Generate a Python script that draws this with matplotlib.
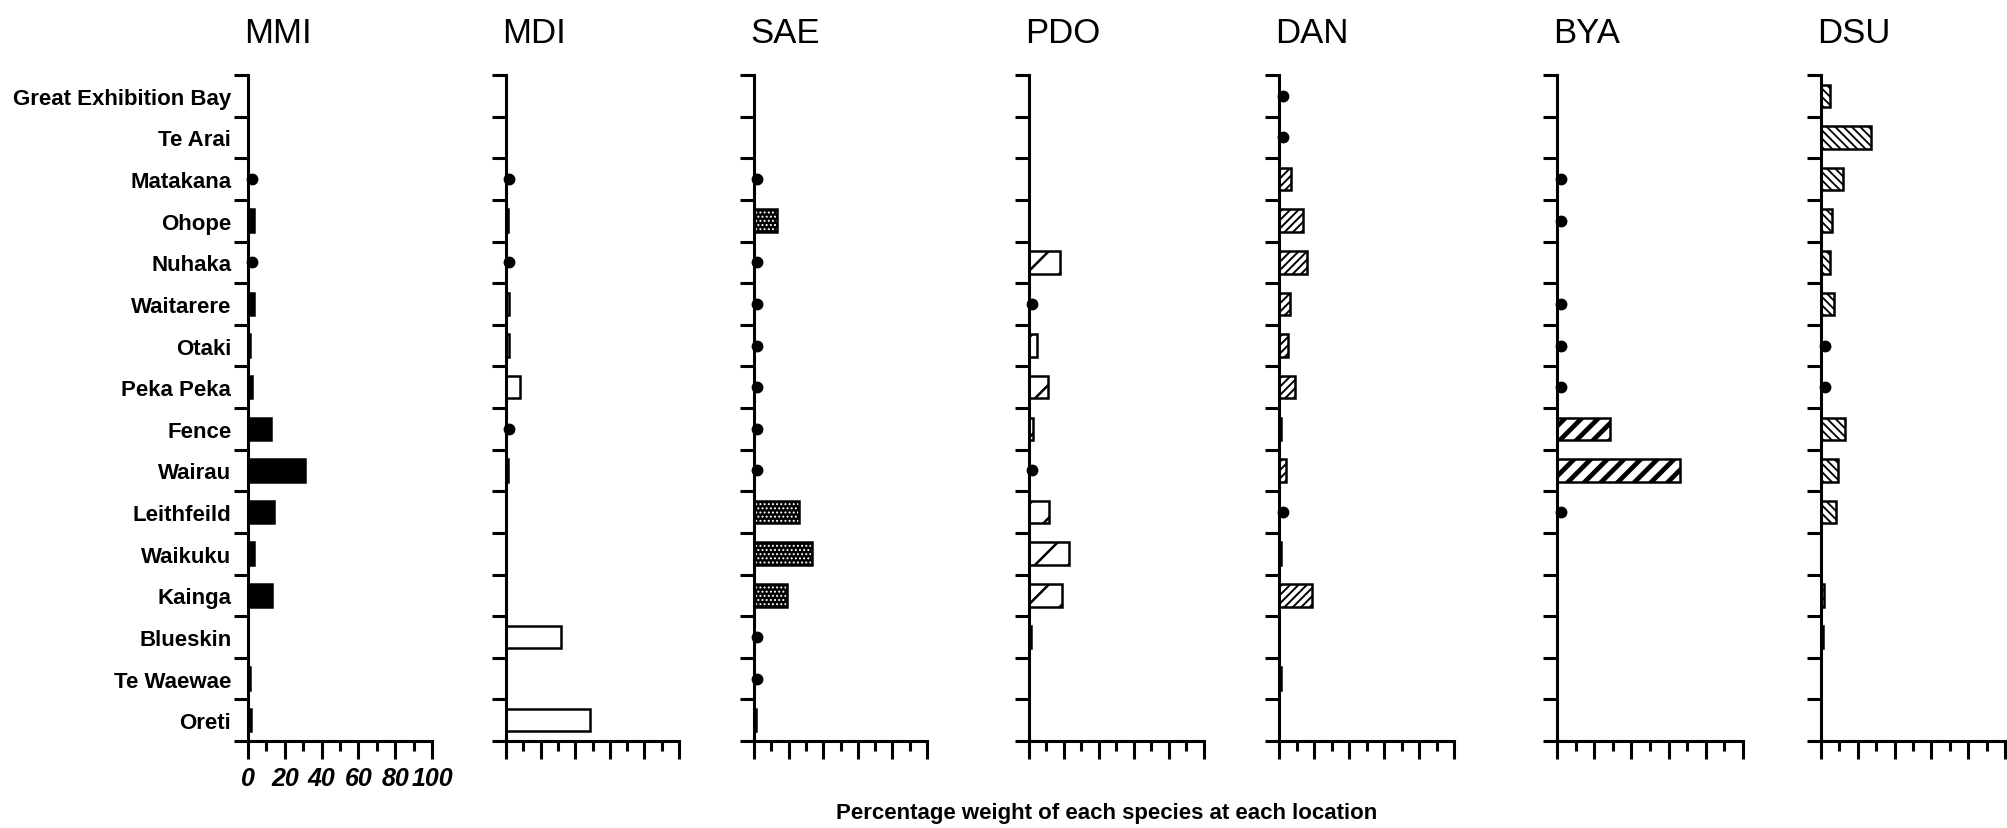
import numpy as np
import matplotlib
matplotlib.use("Agg")
import matplotlib.pyplot as plt
from matplotlib.ticker import FixedLocator, NullFormatter

plt.rcParams['font.family'] = ['Liberation Sans', 'DejaVu Sans']
plt.rcParams['hatch.linewidth'] = 1.6

# sites, top to bottom
sites = ['Great Exhibition Bay', 'Te Arai', 'Matakana', 'Ohope', 'Nuhaka',
         'Waitarere', 'Otaki', 'Peka Peka', 'Fence', 'Wairau', 'Leithfeild',
         'Waikuku', 'Kainga', 'Blueskin', 'Te Waewae', 'Oreti']

species = ['MMI', 'MDI', 'SAE', 'PDO', 'DAN', 'BYA', 'DSU']

# percentage weight (0 = not recorded)
mmi = [0, 0, 0, 3, 0, 3, 1, 2, 12.5, 31, 14, 3, 13, 0, 1, 1.5]
mdi = [0, 0, 0, 1, 0, 2, 2, 8, 0, 1, 0, 0, 0, 32, 0, 48.5]
sae = [0, 0, 0, 13, 0, 0, 0, 0, 0, 0, 26, 33.5, 19, 0, 0, 1]
pdo = [0, 0, 0, 0, 17.7, 0, 4.5, 11, 2.5, 0, 11.5, 23, 19, 1, 0, 0]
dan = [0, 0, 7, 13.7, 16, 6, 5, 9, 1, 4, 0, 1, 19, 0, 1, 0]
bya = [0, 0, 0, 0, 0, 0, 0, 0, 28.5, 66, 0, 0, 0, 0, 0, 0]
dsu = [5, 27, 12, 6, 5, 7, 0, 0, 13, 9, 8, 0, 1.5, 1, 0, 0]

# sites where the species was present only in trace amounts (dots)
mmi_trace = ['Matakana', 'Nuhaka']
mdi_trace = ['Matakana', 'Nuhaka', 'Fence']
sae_trace = ['Matakana', 'Nuhaka', 'Waitarere', 'Otaki', 'Peka Peka', 'Fence',
             'Wairau', 'Blueskin', 'Te Waewae']
pdo_trace = ['Waitarere', 'Wairau']
dan_trace = ['Great Exhibition Bay', 'Te Arai', 'Leithfeild']
bya_trace = ['Matakana', 'Ohope', 'Waitarere', 'Otaki', 'Peka Peka', 'Leithfeild']
dsu_trace = ['Otaki', 'Peka Peka']

values = [mmi, mdi, sae, pdo, dan, bya, dsu]
traces = [mmi_trace, mdi_trace, sae_trace, pdo_trace, dan_trace, bya_trace, dsu_trace]

# bar styles per panel: (facecolor, hatch, hatch line width)
styles = [('black', None, 1.0),
          ('white', None, 1.0),
          ('stipple', None, 1.0),
          ('white', '/', 1.8),
          ('white', '////', 1.4),
          ('white', '//', 3.4),
          ('white', '\\\\\\\\', 1.3)]

# panel placement (figure fraction): left, width
lefts = [0.1235, 0.2520, 0.3755, 0.5124, 0.6370, 0.7754, 0.9069]
widths = [0.0916, 0.0862, 0.0862, 0.0872, 0.0872, 0.0926, 0.0916]
bottom, height = 0.1049, 0.8034

fig = plt.figure(figsize=(20.08, 8.29), dpi=100)
y = np.arange(len(sites))
trace_x = 2

for i, name in enumerate(species):
    ax = fig.add_axes([lefts[i], bottom, widths[i], height])
    vals = np.array(values[i], dtype=float)
    fc, hatch, hlw = styles[i]
    mask = vals > 0
    if fc == 'stipple':
        bars = ax.barh(y[mask], vals[mask], height=0.54, color='black',
                       edgecolor='white', hatch='....', linewidth=0)
        for b in bars:
            if hasattr(b, 'set_hatch_linewidth'):
                b.set_hatch_linewidth(0.9)
        ax.barh(y[mask], vals[mask], height=0.54, fill=False,
                edgecolor='black', linewidth=1.8)
    else:
        bars = ax.barh(y[mask], vals[mask], height=0.54, color=fc,
                       edgecolor='black', hatch=hatch, linewidth=1.8)
        for b in bars:
            if hasattr(b, 'set_hatch_linewidth'):
                b.set_hatch_linewidth(hlw)
    ty = [sites.index(s) for s in traces[i]]
    ax.plot([trace_x] * len(ty), ty, 'o', color='black', markersize=7.5,
            clip_on=False)

    ax.set_xlim(0, 100)
    ax.set_ylim(len(sites) - 0.5, -0.5)
    for s in ['top', 'right']:
        ax.spines[s].set_visible(False)
    for s in ['left', 'bottom']:
        ax.spines[s].set_linewidth(2.2)

    ax.yaxis.set_major_locator(FixedLocator(np.arange(len(sites) + 1) - 0.5))
    ax.yaxis.set_major_formatter(NullFormatter())
    ax.yaxis.set_minor_locator(FixedLocator(y))
    ax.tick_params(axis='y', which='major', direction='out', length=10, width=2.2)
    ax.tick_params(axis='y', which='minor', length=0, pad=12)

    ax.xaxis.set_major_locator(FixedLocator(np.arange(0, 101, 20)))
    ax.xaxis.set_minor_locator(FixedLocator(np.arange(10, 100, 20)))
    ax.tick_params(axis='x', which='major', direction='out', length=13, width=2.2)
    ax.tick_params(axis='x', which='minor', direction='out', length=7, width=2.2)

    if i == 0:
        ax.set_yticks(y, sites, minor=True, fontsize=16, fontweight='bold')
        ax.set_xticks(np.arange(0, 101, 20))
        ax.set_xticklabels([str(v) for v in range(0, 101, 20)], fontsize=18,
                           fontweight='bold', fontstyle='italic')
        ax.tick_params(axis='x', which='major', pad=5)
    else:
        ax.yaxis.set_minor_formatter(NullFormatter())
        ax.xaxis.set_major_formatter(NullFormatter())

    ax.set_title(name, loc='left', fontsize=25, pad=24, x=-0.02)

fig.text(0.551, 0.019, 'Percentage weight of each species at each location',
         ha='center', va='center', fontsize=16, fontweight='bold')

fig.savefig('out.png', dpi=100, facecolor='white')
